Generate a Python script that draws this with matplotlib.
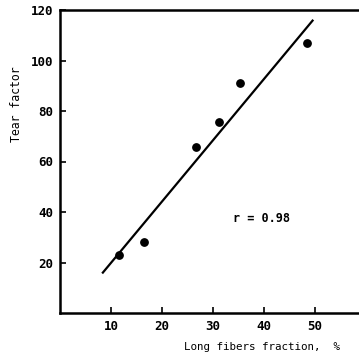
import matplotlib
matplotlib.use("Agg")
import matplotlib.pyplot as plt
import numpy as np

# Long fibers fraction (%) vs tear factor
fiber_fraction = [11.6, 16.5, 26.6, 31.2, 35.3, 48.5]
tear_factor = [23.1, 28.0, 65.9, 75.5, 91.1, 106.8]

# regression line end points
fit_x = [8.4, 49.5]
fit_y = [16.0, 115.8]

x_ticks = [10, 20, 30, 40, 50]
y_ticks = [20, 40, 60, 80, 100, 120]

plt.rcParams['font.family'] = 'DejaVu Sans Mono'
plt.rcParams['font.weight'] = 'bold'

fig = plt.figure(figsize=(3.59, 3.58), dpi=100)
ax = fig.add_axes([60/359, 45/358, 1 - 60/359, 303/358])

ax.plot(fit_x, fit_y, color='black', lw=1.6)
ax.scatter(fiber_fraction, tear_factor, s=28, color='black', zorder=3)

ax.set_xlim(0, 58.6)
ax.set_ylim(0, 120)
ax.set_xticks(x_ticks)
ax.set_yticks(y_ticks)
ax.tick_params(direction='in', length=4, width=1.2, labelsize=9)
ax.tick_params(axis='y', pad=5)
ax.tick_params(axis='x', pad=5)

for side in ['left', 'top', 'bottom']:
    ax.spines[side].set_linewidth(1.8)
ax.spines['right'].set_visible(False)

ax.text(39.5, 37.3, 'r = 0.98', ha='center', va='center', fontsize=8.5)

ax.set_xlabel('Long fibers fraction,  %', fontsize=7.8)
ax.xaxis.set_label_coords(0.675, -0.097)
ax.set_ylabel('Tear factor', fontsize=8.3)
ax.yaxis.set_label_coords(-0.125, 0.69)

fig.savefig('out.png', dpi=100)
